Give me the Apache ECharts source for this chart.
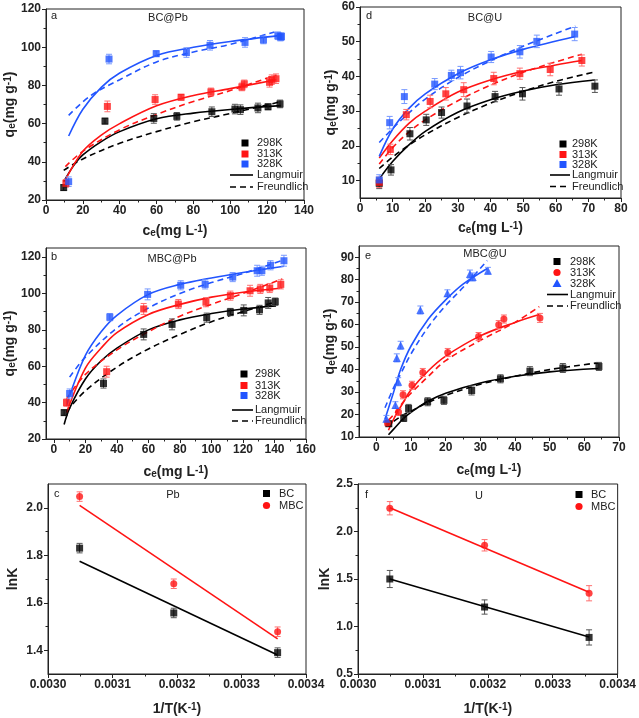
<!DOCTYPE html>
<html>
<head>
<meta charset="utf-8">
<script src="https://cdn.jsdelivr.net/npm/echarts@6/dist/echarts.min.js"></script>
<style>html,body{margin:0;padding:0;background:#fff}#c{width:639px;height:718px}</style>
</head>
<body>
<div id="c"></div>
<script>
// ---------- DATA ----------
// Panel a: BC@Pb  [ce, qe, err]
const a298 = [[9.6,26.5,1.5],[32,61.3,1.5],[58.5,62.7,2.5],[71,63.8,2],[90,66.2,2.5],[102.5,67.6,2.5],[105.5,67.3,2.5],[115,68.2,2.5],[120.5,68.8,1.5],[127,70.3,2]];
const a313 = [[10.8,28.7,2],[33.3,69,2.8],[59.2,72.6,2.5],[73.3,73.8,1.5],[89.5,76.6,2],[106.3,79.2,2],[107.6,80.8,2],[121.3,81.6,2.5],[122.5,83,2.5],[124.8,83.5,2.5]];
const a328 = [[12.3,29.6,2.5],[34.2,93.8,2.5],[59.8,96.6,1.5],[76.2,97.2,2.5],[89,101,2.5],[108,102.5,2.5],[118,103.8,2],[125.8,106,2],[127.2,105.3,2],[127.8,105.6,2]];
const aL298 = [[9.6,29.6],[15,38],[20,43.6],[30,50.6],[40,55.8],[60,62.5],[80,65.5],[100,67.4],[127.5,69.4]];
const aF298 = [[9.6,35.5],[20,41.5],[40,49.7],[60,55.8],[80,61],[100,65.3],[127.5,71.5]];
const aL313 = [[10.5,30.5],[20,45.5],[30,54],[40,60],[60,69.3],[80,74.7],[100,78.3],[125,83]];
const aF313 = [[10.5,37.5],[20,45.5],[40,56.8],[60,64.8],[80,71.6],[100,77.3],[125,85.5]];
const aL328 = [[12.3,53.5],[20,67.5],[30,79],[40,86.5],[60,95.7],[80,100],[100,103],[127.5,106.2]];
const aF328 = [[12.3,64.3],[24,74.5],[40,83],[60,92.3],[80,97.5],[100,101.5],[124,108]];
const aXTicks = [0,20,40,60,80,100,120,140];
const aYTicks = [20,40,60,80,100,120];

// Panel d: BC@U
const d298 = [[5.9,9.2,1.5],[9.5,13.1,1.5],[15.3,23.5,1.8],[20.3,27.5,1.6],[25,29.6,1.6],[32.8,31.5,2],[41.4,34.2,1.5],[49.8,35,1.8],[61,36.4,1.8],[72,37.2,1.8]];
const d313 = [[5.9,9.5,1.5],[9.3,19,1.5],[14.2,29,1.5],[21.5,32.8,1.8],[26.3,35,1.8],[31.8,36.2,2],[41,39.4,1.8],[49,40.8,1.6],[58.3,42,1.8],[68,44.6,1.6]];
const d328 = [[5.9,10.2,1.5],[9.1,26.7,1.8],[13.6,34.2,2],[22.9,37.8,1.6],[28,40.3,1.5],[30.8,41.1,1.8],[40.2,45.6,1.6],[49,47.1,1.8],[54.2,50.1,1.8],[65.8,52.2,1.9]];
const dL298 = [[5.9,10.5],[10,15.5],[15,20.3],[20,24.2],[30,29.7],[40,33.3],[50,35.8],[60,37.6],[72,39]];
const dF298 = [[5.9,13.5],[10,16.8],[15,20.2],[20,23.2],[30,28.2],[40,32.3],[50,35.7],[60,38.6],[72,41.3]];
const dL313 = [[5.9,16.5],[10,21.5],[15,26.5],[20,30],[30,35.5],[40,39],[50,41.5],[60,43.3],[68,44.6]];
const dF313 = [[5.9,14.8],[10,19.5],[15,24],[20,27.5],[30,33],[40,37.5],[50,41.2],[60,44.2],[68,46.4]];
const dL328 = [[5.9,17],[10,24.8],[15,30.8],[20,35],[30,40.8],[40,44.8],[50,47.8],[66,51.5]];
const dF328 = [[5.9,21],[10,25],[15,29.5],[20,33.5],[30,39.7],[40,44.5],[50,48.7],[66,54.5]];
const dXTicks = [0,10,20,30,40,50,60,70,80];
const dYTicks = [10,20,30,40,50,60];

// Panel b: MBC@Pb
const b298 = [[6.5,34.5,1.5],[31.5,50.5,2.5],[57,77.5,3],[75,83,3],[97,86.7,2.5],[112,89.8,2],[120.5,90.7,3],[130.5,91,2.5],[136,94.8,3],[140.5,95.5,2]];
const b313 = [[8,40,2],[33.5,57,3],[57,91.5,3],[79,94.2,2.5],[96.5,95.2,2.5],[112,98.8,2.5],[124.5,101.5,3],[131,102.5,2.5],[137,103,2.5],[144,105,2.5]];
const b328 = [[10,45,2.5],[35.5,87,2],[59.5,99.5,3],[80.5,104.5,2.5],[96,105,2.5],[113.5,109,2.5],[129,112.5,3],[132,112.5,2.5],[137.5,115.5,2.5],[146,118,3]];
const bL298 = [[6.5,28],[10,37],[20,53],[30,63],[40,70],[60,80],[80,85.5],[100,89],[120,91.5],[141,93.2]];
const bF298 = [[8,35],[20,46.5],[40,59.5],[60,69.5],[80,77.5],[100,84.5],[120,90],[141,95.5]];
const bL313 = [[8,34.5],[20,59],[30,70],[40,78.5],[60,88.5],[80,94],[100,98],[120,100.7],[145,103]];
const bF313 = [[8,42],[20,55.5],[40,69],[60,79],[80,87.5],[100,94],[120,100],[145,108]];
const bL328 = [[8,38],[10,44],[20,66],[30,79],[40,88],[60,99.5],[80,105],[100,108.5],[120,111.5],[146,115]];
const bF328 = [[10,54],[20,65],[40,81],[60,92],[80,100],[100,106],[120,111],[146,118.5]];
const bXTicks = [0,20,40,60,80,100,120,140,160];
const bYTicks = [20,40,60,80,100,120];

// Panel e: MBC@U
const e298 = [[3.6,15.9,1.2],[7.9,18.4,1.5],[9.3,22.7,1.8],[14.8,25.7,1.8],[19.5,26.3,1.8],[27.5,30.7,2],[35.8,35.9,1.8],[44.3,39.3,2],[53.8,40.7,2],[64.2,41.4,1.8]];
const e313 = [[3.2,16.2,1.2],[6.4,21.1,1.5],[7.7,28.8,1.8],[10.3,33,1.8],[13.4,38.7,1.8],[20.6,47.6,1.8],[29.5,54.7,1.8],[35.3,60,1.8],[36.8,62.5,1.8],[47.2,63,2]];
const e328 = [[2.9,18.1,1.5],[5.5,24.2,1.5],[5.9,45.2,1.8],[6.3,34.6,1.8],[7,50.8,1.8],[12.7,66.5,1.8],[20.5,74,1.5],[27,82.5,1.8],[27.8,81.2,1.8],[32.2,84,1.5]];
const eL298 = [[3.5,11],[5,13.5],[8,18.5],[10,21],[15,26],[20,29.5],[30,34],[40,37],[50,39],[64,40.5]];
const eF298 = [[5,17],[8,20],[10,21.5],[15,25.5],[20,28.5],[30,33.5],[40,37],[50,40],[64,43]];
const eL313 = [[3.5,13],[5,18],[8,26],[10,31],[15,39.5],[20,46],[30,55],[40,61],[47,64.5]];
const eF313 = [[3.5,17.5],[5,20],[8,26],[10,29.5],[15,37],[20,44],[30,53],[40,61],[47,68]];
const eL328 = [[2.5,18],[5,30],[7,40],[10,50.5],[15,62.5],[20,71],[25,78],[32,85]];
const eF328 = [[2.5,23],[5,32],[7,38],[10,47],[15,59],[20,68.5],[25,76.5],[32,88.5]];
const eXTicks = [0,10,20,30,40,50,60,70];
const eYTicks = [10,20,30,40,50,60,70,80,90];

// Panel c: Pb, lnK vs 1/T
const invT = [0.003049, 0.003195, 0.003356];
const cBC = [1.83, 1.557, 1.39];
const cBCerr = [0.02, 0.02, 0.02];
const cMBC = [2.047, 1.68, 1.478];
const cMBCerr = [0.02, 0.02, 0.02];
const cBCfit = [[0.003049,1.775],[0.003356,1.38]];
const cMBCfit = [[0.003049,2.01],[0.003356,1.448]];
const cYTicks = [1.4,1.6,1.8,2.0];
// Panel f: U
const fBC = [1.50, 1.205, 0.885];
const fBCerr = [0.09, 0.075, 0.08];
const fMBC = [2.245, 1.855, 1.35];
const fMBCerr = [0.07, 0.06, 0.08];
const fBCfit = [[0.003049,1.50],[0.003356,0.89]];
const fMBCfit = [[0.003049,2.25],[0.003356,1.36]];
const fYTicks = [0.5,1.0,1.5,2.0,2.5];
const tXTicks = [0.0030,0.0031,0.0032,0.0033,0.0034];

// ---------- STYLE / BUILD ----------
const FONT = 'Liberation Sans, Arial, sans-serif';
const INK = '#222';
const C = {k:'#000000', r:'#ff1414', b:'#2255ff'};
const EC = {k:'#555555', r:'#ff6f6f', b:'#7799ff'};

const grids = [
  {left:46, top:9, width:258, height:191},   // a
  {left:360, top:7, width:261, height:191},  // d
  {left:46, top:248, width:260, height:191}, // b
  {left:359, top:246, width:260, height:191},// e
  {left:48, top:484, width:258, height:190}, // c
  {left:358, top:484, width:261, height:190} // f
].map(g => Object.assign({show:true, borderColor:INK, borderWidth:1, backgroundColor:'transparent'}, g));

const rich = {
  t:{fontSize:14, fontWeight:'bold', fontFamily:FONT, color:INK},
  s:{fontSize:10, fontWeight:'bold', fontFamily:FONT, color:INK, verticalAlign:'bottom', lineHeight:10},
  p:{fontSize:10, fontWeight:'bold', fontFamily:FONT, color:INK, verticalAlign:'top', lineHeight:10}
};
const qName = '{t|q}{s|e}{t|(mg g}{p|-1}{t|)}';
const ceName = '{t|c}{s|e}{t|(mg L}{p|-1}{t|)}';
const tName = '{t|1/T(K}{p|-1}{t|)}';
const lnName = '{t|lnK}';

function mids(t){ const m=[]; for(let i=0;i<t.length-1;i++) m.push(+((t[i]+t[i+1])/2).toPrecision(6)); return m; }

const xAxes=[], yAxes=[];
function addAxes(g, xmin,xmax,xt,xfmt,xname,xgap, ymin,ymax,yt,yfmt,yname,ygap){
  const base = (pos)=>({gridIndex:g, type:'value', position:pos, splitLine:{show:false}});
  xAxes.push(Object.assign(base('bottom'),{min:xmin,max:xmax,
    axisLine:{show:true,onZero:false,lineStyle:{color:INK,width:1}},
    axisTick:{show:true,customValues:xt,length:4,lineStyle:{color:INK}},
    axisLabel:{customValues:xt,formatter:xfmt,color:INK,fontWeight:'bold',fontSize:12,fontFamily:FONT,margin:5},
    name:xname,nameLocation:'middle',nameGap:xgap,nameTextStyle:{rich:rich}}));
  yAxes.push(Object.assign(base('left'),{min:ymin,max:ymax,
    axisLine:{show:true,onZero:false,lineStyle:{color:INK,width:1}},
    axisTick:{show:true,customValues:yt,length:4,lineStyle:{color:INK}},
    axisLabel:{customValues:yt,formatter:yfmt,color:INK,fontWeight:'bold',fontSize:12,fontFamily:FONT,margin:5},
    name:yname,nameLocation:'middle',nameGap:ygap,nameTextStyle:{rich:rich}}));
  // minor tick axes
  xAxes.push(Object.assign(base('bottom'),{min:xmin,max:xmax,axisLine:{show:false,onZero:false},
    axisTick:{show:true,customValues:mids(xt).filter(v=>v>xmin&&v<xmax),length:2.5,lineStyle:{color:INK}},axisLabel:{show:false}}));
  yAxes.push(Object.assign(base('left'),{min:ymin,max:ymax,axisLine:{show:false,onZero:false},
    axisTick:{show:true,customValues:mids(yt).filter(v=>v>ymin&&v<ymax),length:2.5,lineStyle:{color:INK}},axisLabel:{show:false}}));
  return xAxes.length-2;
}
const int = v=>String(Math.round(v));
const ax = addAxes(0, 0,140,aXTicks,int,ceName,24, 20,120,aYTicks,int,qName,23);
const dx = addAxes(1, 0,80,dXTicks,int,ceName,23, 5,60,dYTicks,int,qName,20);
const bx = addAxes(2, -5,160,bXTicks,int,ceName,26, 20,125,bYTicks,int,qName,23);
const ex = addAxes(3, -5,70,eXTicks,int,ceName,26, 10,95,eYTicks,int,qName,18);
const cx = addAxes(4, 0.0030,0.0034,tXTicks,v=>v.toFixed(4),tName,28, 1.3,2.1,cYTicks,v=>v.toFixed(1),lnName,28);
const fx = addAxes(5, 0.0030,0.0034,tXTicks,v=>v.toFixed(4),tName,28, 0.5,2.5,fYTicks,v=>v.toFixed(1),lnName,15);

const series=[];
function line(idx, data, color, dashed){
  series.push({type:'line', xAxisIndex:idx, yAxisIndex:idx, data:data, smooth:0.35, symbol:'none',
    lineStyle:{color:color, width:1.6, type: dashed?[6,4]:'solid'}, silent:true, z:2});
}
function errbars(idx, data, color){
  series.push({type:'custom', xAxisIndex:idx, yAxisIndex:idx, data:data, z:3, silent:true,
    renderItem:function(params, api){
      const x=api.value(0), y=api.value(1), e=api.value(2);
      const top=api.coord([x,y+e]), bot=api.coord([x,y-e]);
      const st={stroke:color, lineWidth:1};
      return {type:'group', children:[
        {type:'line', shape:{x1:top[0],y1:top[1],x2:bot[0],y2:bot[1]}, style:st},
        {type:'line', shape:{x1:top[0]-3,y1:top[1],x2:top[0]+3,y2:top[1]}, style:st},
        {type:'line', shape:{x1:bot[0]-3,y1:bot[1],x2:bot[0]+3,y2:bot[1]}, style:st}
      ]};
    }});
}
function pts(idx, data, color, sym, size){
  series.push({type:'scatter', xAxisIndex:idx, yAxisIndex:idx, data:data.map(d=>[d[0],d[1]]),
    symbol:sym, symbolSize:size, itemStyle:{color:color}, z:4, silent:true});
}
function panel(idx, sets){
  sets.forEach(s=>{ line(idx,s.L,s.c,false); line(idx,s.F,s.c,true); });
  sets.forEach(s=>errbars(idx,s.P,s.ec));
  sets.forEach(s=>pts(idx,s.P,s.c,s.sym||'rect',s.size||7));
}
panel(ax,[{P:a298,L:aL298,F:aF298,c:C.k,ec:EC.k},{P:a313,L:aL313,F:aF313,c:C.r,ec:EC.r},{P:a328,L:aL328,F:aF328,c:C.b,ec:EC.b}]);
panel(dx,[{P:d298,L:dL298,F:dF298,c:C.k,ec:EC.k},{P:d313,L:dL313,F:dF313,c:C.r,ec:EC.r},{P:d328,L:dL328,F:dF328,c:C.b,ec:EC.b}]);
panel(bx,[{P:b298,L:bL298,F:bF298,c:C.k,ec:EC.k},{P:b313,L:bL313,F:bF313,c:C.r,ec:EC.r},{P:b328,L:bL328,F:bF328,c:C.b,ec:EC.b}]);
panel(ex,[{P:e298,L:eL298,F:eF298,c:C.k,ec:EC.k},{P:e313,L:eL313,F:eF313,c:C.r,ec:EC.r,sym:'circle',size:7},{P:e328,L:eL328,F:eF328,c:C.b,ec:EC.b,sym:'triangle',size:8}]);

function vant(idx, fit, ys, errs, color, ec, sym){
  series.push({type:'line', xAxisIndex:idx, yAxisIndex:idx, data:fit, symbol:'none', lineStyle:{color:color,width:1.6}, silent:true, z:2});
  const d = invT.map((x,i)=>[x,ys[i],errs[i]]);
  errbars(idx,d,ec);
  pts(idx,d,color,sym,7);
}
vant(cx,cBCfit,cBC,cBCerr,C.k,EC.k,'rect');
vant(cx,cMBCfit,cMBC,cMBCerr,C.r,EC.r,'circle');
vant(fx,fBCfit,fBC,fBCerr,C.k,EC.k,'rect');
vant(fx,fMBCfit,fMBC,fMBCerr,C.r,EC.r,'circle');

// ---------- annotations (legends / panel labels) ----------
const graphic=[];
function txt(x,y,s,align,size){ graphic.push({type:'text', x:x, y:y, style:{text:s, fill:INK, font:(size||11)+'px '+FONT, align:align||'left', verticalAlign:'middle'}, z:10}); }
function mark(x,y,sym,color){
  if(sym==='rect') graphic.push({type:'rect', shape:{x:x-3.5,y:y-3.5,width:7,height:7}, style:{fill:color}, z:10});
  else if(sym==='circle') graphic.push({type:'circle', shape:{cx:x,cy:y,r:3.6}, style:{fill:color}, z:10});
  else graphic.push({type:'polygon', shape:{points:[[x,y-4.5],[x-4.5,y+3.5],[x+4.5,y+3.5]]}, style:{fill:color}, z:10});
}
function seg(x1,x2,y,dashed){ graphic.push({type:'line', shape:{x1:x1,y1:y,x2:x2,y2:y}, style:{stroke:'#000', lineWidth:1.6, lineDash: dashed?[6,4]:null}, z:10}); }
function isoLegend(mx,rows,lx1,lx2,lineRows,tx,syms){
  const names=['298K','313K','328K'], cols=[C.k,C.r,C.b];
  rows.forEach((y,i)=>{ mark(mx,y,syms[i],cols[i]); txt(tx,y,names[i]); });
  seg(lx1,lx2,lineRows[0],false); txt(tx,lineRows[0],'Langmuir');
  seg(lx1,lx2,lineRows[1],true); txt(tx,lineRows[1],'Freundlich');
}
isoLegend(245,[143,154,164],230,253,[175,187],257,['rect','rect','rect']);
isoLegend(563,[144,154.5,164.5],550,570,[175,186.5],572,['rect','rect','rect']);
isoLegend(244,[374,385.5,395.5],232,253,[410,421],255,['rect','rect','rect']);
isoLegend(557,[261.5,272.5,283.5],547,568,[294.5,306],570,['rect','circle','triangle']);
mark(266.5,493.5,'rect',C.k); txt(279,493.5,'BC');
mark(266.5,505.5,'circle',C.r); txt(279,505.5,'MBC');
mark(579,494.5,'rect',C.k); txt(591,494.5,'BC');
mark(579,506.5,'circle',C.r); txt(591,506.5,'MBC');
// panel letters and titles
txt(51,16,'a'); txt(168,18,'BC@Pb','center');
txt(366,16,'d'); txt(485,18,'BC@U','center');
txt(51,257,'b'); txt(172,259,'MBC@Pb','center');
txt(365,256,'e'); txt(485,254,'MBC@U','center');
txt(54,493.5,'c'); txt(173,494.5,'Pb','center');
txt(365,494.5,'f'); txt(479,495.5,'U','center');

const chart = echarts.init(document.getElementById('c'), null, {renderer:'canvas'});
chart.setOption({
  animation:false,
  backgroundColor:'#fff',
  textStyle:{fontFamily:FONT},
  grid:grids, xAxis:xAxes, yAxis:yAxes, series:series, graphic:graphic
});
</script>
</body>
</html>
